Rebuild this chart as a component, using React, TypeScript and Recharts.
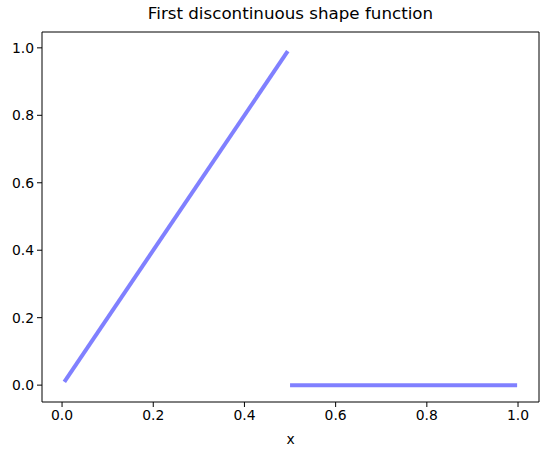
import React from "react";
import { LineChart, Line, XAxis, YAxis, ReferenceLine } from "recharts";

const leftX = [0.005, 0.495];
const leftY = [0.01, 0.99];
const rightX = [0.5, 0.998];
const rightY = [0, 0];
const xTicks = [0, 0.2, 0.4, 0.6, 0.8, 1.0];
const yTicks = [0, 0.2, 0.4, 0.6, 0.8, 1.0];
const xDomain = [-0.044, 1.046];
const yDomain = [-0.05, 1.047];

const leftData = leftX.map((x, i) => ({ x, y: leftY[i] }));
const rightData = rightX.map((x, i) => ({ x, y: rightY[i] }));

const font = "DejaVu Sans";
const tickStyle = { fill: "#000", fontSize: 13.9, fontFamily: font };

export default function App() {
  return (
    <div style={{ position: "absolute", left: 0, top: 0, width: 547, height: 455, background: "#fff" }}>
      <div
        style={{
          position: "absolute",
          top: 3,
          left: 42,
          width: 497,
          textAlign: "center",
          fontFamily: font,
          fontSize: 16.7,
          color: "#000",
        }}
      >
        First discontinuous shape function
      </div>
      <LineChart width={547} height={455} margin={{ top: 32, right: 8, bottom: 0, left: 0 }}>
        <XAxis
          dataKey="x"
          type="number"
          domain={xDomain}
          ticks={xTicks}
          tickFormatter={(v: number) => v.toFixed(1)}
          allowDataOverflow
          height={53}
          stroke="#000"
          tickSize={5}
          tickMargin={3}
          tick={tickStyle}
          label={{ value: "x", position: "insideBottom", offset: 11, fill: "#000", fontSize: 13.9, fontFamily: font }}
        />
        <YAxis
          type="number"
          domain={yDomain}
          ticks={yTicks}
          tickFormatter={(v: number) => v.toFixed(1)}
          allowDataOverflow
          width={42}
          stroke="#000"
          tickSize={5}
          tickMargin={3}
          tick={tickStyle}
        />
        <ReferenceLine x={xDomain[1]} stroke="#000" ifOverflow="visible" />
        <ReferenceLine y={yDomain[1]} stroke="#000" ifOverflow="visible" />
        <Line data={leftData} dataKey="y" stroke="#8080ff" strokeWidth={4} dot={false} isAnimationActive={false} />
        <Line data={rightData} dataKey="y" stroke="#8080ff" strokeWidth={4} dot={false} isAnimationActive={false} />
      </LineChart>
    </div>
  );
}
